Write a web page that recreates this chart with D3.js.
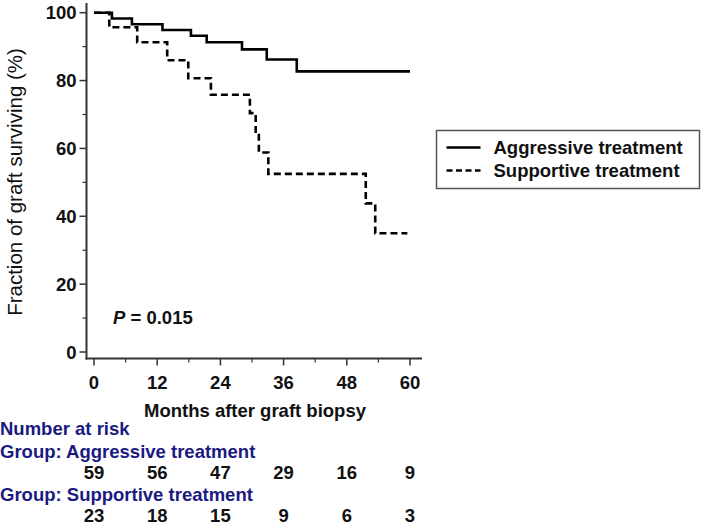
<!DOCTYPE html>
<html>
<head>
<meta charset="utf-8">
<script src="https://cdn.jsdelivr.net/npm/d3@7"></script>
<style>
  body { margin: 0; background: #fff; }
  svg { display: block; font-family: "Liberation Sans", Arial, sans-serif; }
</style>
</head>
<body>
<div id="chart"></div>
<script>
'use strict';

// survival curves (months, % surviving)
var aggressiveTimes = [0, 3.4, 7.2, 13, 18.4, 21.4, 28.1, 32.8, 38.5, 60];
var aggressiveSurv  = [100, 98.3, 96.6, 94.9, 93.2, 91.3, 89.2, 86.2, 82.7, 82.7];
var supportiveTimes = [0, 2.9, 8.2, 13.9, 17.9, 22.2, 29.6, 30.7, 31.3, 33.1, 51.6, 53.4, 59.5];
var supportiveSurv  = [100, 95.7, 91.3, 86.0, 80.7, 75.8, 70.4, 64.9, 58.8, 52.5, 43.8, 35.0, 35.0];

var xTicks = [0, 12, 24, 36, 48, 60];
var xMinor = [6, 18, 30, 42, 54];
var yTicks = [0, 20, 40, 60, 80, 100];
var yMinor = [10, 30, 50, 70, 90];

var groups = ["Aggressive treatment", "Supportive treatment"];
var riskAggressive = [59, 56, 47, 29, 16, 9];
var riskSupportive = [23, 18, 15, 9, 6, 3];
var pText = "0.015";

var W = 709, H = 525;
var navy = "#1a1a80";
var axisCol = "#333";

var svg = d3.select("#chart").append("svg")
  .attr("width", W).attr("height", H);

var x = d3.scaleLinear().domain([0, 60]).range([94, 410]);
var y = d3.scaleLinear().domain([0, 100]).range([352, 12.7]);

var axisX0 = 86.5, axisY0 = 358.5;

// y axis
var gy = svg.append("g").attr("transform", "translate(" + axisX0 + ",0)");
gy.append("line").attr("y1", 3).attr("y2", axisY0 + 1)
  .attr("stroke", axisCol).attr("stroke-width", 2);
gy.selectAll(".maj").data(yTicks).enter().append("line")
  .attr("x1", -7).attr("x2", 0)
  .attr("y1", function(d){ return y(d); }).attr("y2", function(d){ return y(d); })
  .attr("stroke", axisCol).attr("stroke-width", 1.5);
gy.selectAll(".min").data(yMinor).enter().append("line")
  .attr("x1", -4).attr("x2", 0)
  .attr("y1", function(d){ return y(d); }).attr("y2", function(d){ return y(d); })
  .attr("stroke", axisCol).attr("stroke-width", 1.2);
gy.selectAll("text").data(yTicks).enter().append("text")
  .attr("x", -10).attr("y", function(d){ return y(d); })
  .attr("dy", "0.36em").attr("text-anchor", "end")
  .attr("font-size", 18.5).attr("font-weight", "bold").attr("fill", "#111")
  .text(function(d){ return d; });

// x axis
var gx = svg.append("g").attr("transform", "translate(0," + axisY0 + ")");
gx.append("line").attr("x1", axisX0 - 1).attr("x2", 422)
  .attr("stroke", axisCol).attr("stroke-width", 2);
gx.selectAll(".maj").data(xTicks).enter().append("line")
  .attr("x1", function(d){ return x(d); }).attr("x2", function(d){ return x(d); })
  .attr("y1", 0).attr("y2", 7)
  .attr("stroke", axisCol).attr("stroke-width", 1.5);
gx.selectAll(".min").data(xMinor).enter().append("line")
  .attr("x1", function(d){ return x(d); }).attr("x2", function(d){ return x(d); })
  .attr("y1", 0).attr("y2", 4)
  .attr("stroke", axisCol).attr("stroke-width", 1.2);
gx.selectAll("text").data(xTicks).enter().append("text")
  .attr("x", function(d){ return x(d); }).attr("y", 24)
  .attr("dy", "0.36em").attr("text-anchor", "middle")
  .attr("font-size", 18.5).attr("font-weight", "bold").attr("fill", "#111")
  .text(function(d){ return d; });

// axis titles
svg.append("text")
  .attr("x", 255).attr("y", 410).attr("dy", "0.36em")
  .attr("text-anchor", "middle").attr("font-size", 18.5).attr("font-weight", "bold")
  .attr("fill", "#111").text("Months after graft biopsy");
svg.append("text")
  .attr("transform", "translate(15,182) rotate(-90)").attr("dy", "0.36em")
  .attr("text-anchor", "middle").attr("font-size", 20.5)
  .attr("fill", "#111").text("Fraction of graft surviving (%)");

// curves
var line = d3.line()
  .x(function(d){ return x(d[0]); })
  .y(function(d){ return y(d[1]); })
  .curve(d3.curveStepAfter);

svg.append("path")
  .attr("d", line(d3.zip(aggressiveTimes, aggressiveSurv)))
  .attr("fill", "none").attr("stroke", "#000").attr("stroke-width", 2.6);
svg.append("path")
  .attr("d", line(d3.zip(supportiveTimes, supportiveSurv)))
  .attr("fill", "none").attr("stroke", "#000").attr("stroke-width", 2.6)
  .attr("stroke-dasharray", "7,4");

// P value
var pt = svg.append("text").attr("x", 113).attr("y", 317).attr("dy", "0.36em")
  .attr("font-size", 18.5).attr("font-weight", "bold").attr("fill", "#111");
pt.append("tspan").attr("font-style", "italic").text("P");
pt.append("tspan").text(" = " + pText);

// legend
var lg = svg.append("g").attr("transform", "translate(436.5,130.5)");
lg.append("rect").attr("width", 263).attr("height", 58)
  .attr("fill", "#fff").attr("stroke", "#555").attr("stroke-width", 1.5);
var items = lg.selectAll(".item").data(groups).enter().append("g")
  .attr("transform", function(d, i){ return "translate(0," + (17 + i * 23) + ")"; });
items.append("line").attr("x1", 10).attr("x2", 44)
  .attr("stroke", "#000").attr("stroke-width", 2.6)
  .attr("stroke-dasharray", function(d, i){ return i ? "6,3.5" : null; });
items.append("text").attr("x", 57).attr("dy", "0.36em")
  .attr("font-size", 18.5).attr("font-weight", "bold").attr("fill", "#111")
  .text(function(d){ return d; });

// number at risk table
svg.append("text").attr("x", 0).attr("y", 428).attr("dy", "0.36em")
  .attr("font-size", 18.5).attr("font-weight", "bold").attr("fill", navy)
  .text("Number at risk");
var rows = [riskAggressive, riskSupportive];
rows.forEach(function(vals, i){
  var yy = 451 + i * 43;
  svg.append("text").attr("x", 0).attr("y", yy).attr("dy", "0.36em")
    .attr("font-size", 18.5).attr("font-weight", "bold").attr("fill", navy)
    .text("Group: " + groups[i]);
  svg.selectAll(".r" + i).data(vals).enter().append("text")
    .attr("x", function(d, j){ return x(xTicks[j]); }).attr("y", yy + 21)
    .attr("dy", "0.36em").attr("text-anchor", "middle")
    .attr("font-size", 18.5).attr("font-weight", "bold").attr("fill", "#111")
    .text(function(d){ return d; });
});
</script>
</body>
</html>
